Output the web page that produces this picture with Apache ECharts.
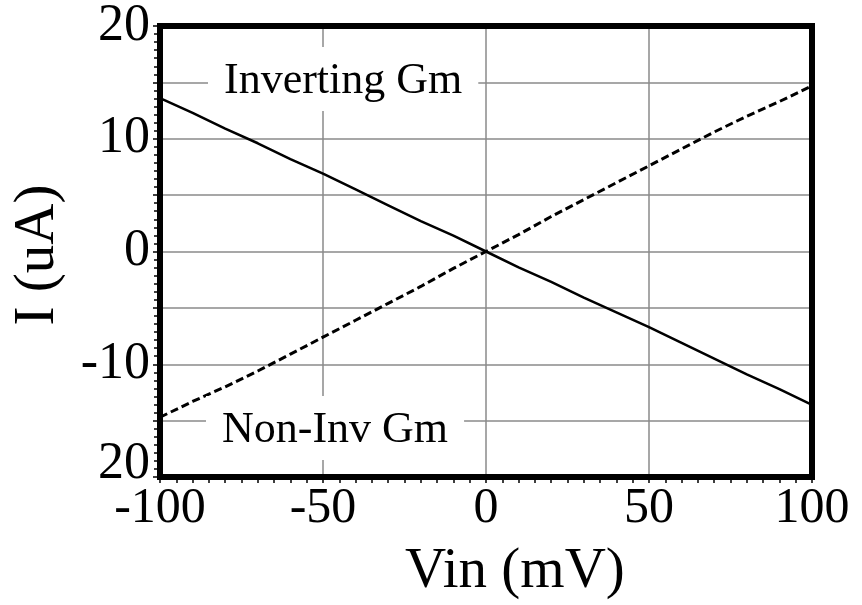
<!DOCTYPE html>
<html>
<head>
<meta charset="utf-8">
<script src="https://cdn.jsdelivr.net/npm/echarts@6/dist/echarts.min.js"></script>
<style>
  html, body { margin: 0; padding: 0; background: #fff; }
  #chart { width: 862px; height: 605px; }
</style>
</head>
<body>
<div id="chart"></div>
<script>
// Input voltage sweep (mV)
const vin = [-100, -90, -80, -70, -60, -50, -40, -30, -20, -10, 0,
             10, 20, 30, 40, 50, 60, 70, 80, 90, 100];
// Output current of the inverting transconductor (uA)
const invertingI = [13.6, 12.3, 10.9, 9.6, 8.2, 6.9, 5.5, 4.1, 2.7, 1.4, 0,
                    -1.4, -2.7, -4.1, -5.4, -6.7, -8.1, -9.5, -10.9, -12.2, -13.6];
// Output current of the non-inverting transconductor (uA)
const nonInvI = [-14.7, -13.3, -12.0, -10.6, -9.1, -7.6, -6.1, -4.6, -3.1, -1.5, 0,
                 1.5, 3.1, 4.6, 6.1, 7.6, 9.1, 10.6, 12.0, 13.3, 14.7];
// Tick labels printed on the current axis
const yTickLabels = { '20': '20', '10': '10', '0': '0', '-10': '-10', '-20': '20' };
const xTickLabels = ['-100', '-50', '0', '50', '100'];

const serif = '"Liberation Serif", "Times New Roman", serif';
const frame = { color: '#000', width: 6, cap: 'square' };

const chart = echarts.init(document.getElementById('chart'));
chart.setOption({
  animation: false,
  backgroundColor: '#fff',
  grid: { left: 160, right: 50, top: 25, bottom: 128 },
  xAxis: [{
    type: 'value', min: -100, max: 100, interval: 50,
    axisLine: { show: true, onZero: false, lineStyle: frame },
    axisTick: { show: true, length: 6, lineStyle: { color: '#000', width: 1.5 } },
    minorTick: { show: true, splitNumber: 10, length: 6, lineStyle: { color: '#000', width: 1.5 } },
    splitLine: { show: true, lineStyle: { color: '#8a8a8a', width: 1.5 } },
    axisLabel: {
      margin: 7, fontFamily: serif, fontSize: 50, color: '#000',
      formatter: v => xTickLabels.includes(String(v)) ? String(v) : ''
    }
  }, {
    type: 'value', position: 'top', min: -100, max: 100,
    axisLine: { show: true, onZero: false, lineStyle: frame },
    axisTick: { show: false }, axisLabel: { show: false }, splitLine: { show: false }
  }],
  yAxis: [{
    type: 'value', min: -20, max: 20, interval: 5,
    axisLine: { show: true, onZero: false, lineStyle: frame },
    axisTick: { show: true, length: 7, lineStyle: { color: '#000', width: 1.5 } },
    minorTick: { show: true, splitNumber: 7, length: 6, lineStyle: { color: '#000', width: 1.5 } },
    splitLine: { show: true, lineStyle: { color: '#8a8a8a', width: 1.5 } },
    axisLabel: {
      margin: 10, fontFamily: serif, fontSize: 52, color: '#000',
      formatter: v => {
        const t = yTickLabels[String(v)];
        if (t === undefined) return '';
        return v === -20 ? '{lo|' + t + '}' : t;
      },
      rich: { lo: { fontFamily: serif, fontSize: 52, color: '#000', padding: [0, 0, 26, 0] } }
    }
  }, {
    type: 'value', position: 'right', min: -20, max: 20,
    axisLine: { show: true, onZero: false, lineStyle: frame },
    axisTick: { show: false }, axisLabel: { show: false }, splitLine: { show: false }
  }],
  series: [{
    name: 'Inverting Gm', type: 'line', showSymbol: false, symbol: 'none',
    data: vin.map((v, i) => [v, invertingI[i]]),
    lineStyle: { color: '#000', width: 2.5 }, z: 3
  }, {
    name: 'Non-Inv Gm', type: 'line', showSymbol: false, symbol: 'none',
    data: vin.map((v, i) => [v, nonInvI[i]]),
    lineStyle: { color: '#000', width: 3, type: [8, 4] }, z: 3
  }],
  graphic: [{
    type: 'text', left: 208, top: 47, z: 10,
    style: {
      text: 'Inverting Gm', font: '44px ' + serif, fill: '#000',
      backgroundColor: '#fff', padding: [12, 16, 8, 16]
    }
  }, {
    type: 'text', left: 206, top: 396, z: 10,
    style: {
      text: 'Non-Inv Gm', font: '44px ' + serif, fill: '#000',
      backgroundColor: '#fff', padding: [12, 16, 8, 16]
    }
  }, {
    type: 'text', left: 405, top: 544,
    style: { text: 'Vin (mV)', font: '57px ' + serif, fill: '#000' }
  }, {
    type: 'text', x: 38, y: 255, rotation: Math.PI / 2, z: 10,
    style: {
      text: 'I (uA)', font: '57px ' + serif, fill: '#000',
      align: 'center', verticalAlign: 'middle'
    }
  }]
});
</script>
</body>
</html>
